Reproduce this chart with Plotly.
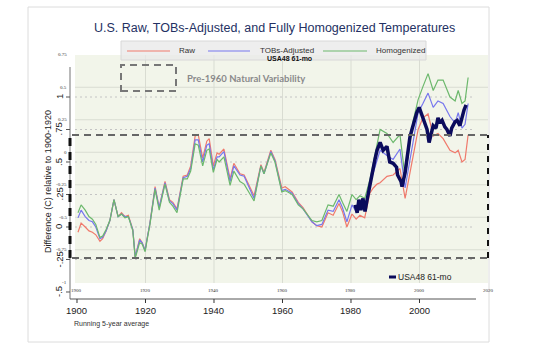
import plotly.graph_objects as go

# ---------------- data ----------------
years_main = [1900.3, 1901.2, 1902.4, 1903.5, 1904.5, 1905.5, 1906.7, 1907.5, 1908.5, 1909.6,
              1910.8, 1912.0, 1913.0, 1914.0, 1915.0, 1916.3, 1917.0, 1918.3, 1919.0, 1919.9,
              1920.4, 1921.3, 1922.8, 1924.0, 1925.7, 1927.0, 1928.0, 1929.2, 1931.0, 1932.2,
              1933.2, 1934.5, 1935.4, 1936.7, 1937.9, 1938.6, 1939.8, 1940.9, 1941.5, 1942.9,
              1944.7, 1945.8, 1947.6, 1948.8, 1951.7, 1953.7, 1954.6, 1956.6, 1957.8, 1959.8,
              1960.8, 1962.8, 1964.6, 1966.0, 1968.6, 1970.0, 1971.5, 1973.3, 1974.8, 1976.5,
              1977.5, 1978.8, 1980.3, 1981.5, 1982.6, 1984.0, 1985.5, 1986.5, 1987.6, 1988.5,
              1990.5, 1992.3, 1994.3, 1995.8, 1998.1, 1999.6, 2001.0, 2002.5, 2004.0, 2005.4,
              2006.9, 2008.9, 2010.4, 2011.3, 2012.4, 2013.3, 2014.2]
raw = [-0.04, 0.03, 0.00, -0.03, -0.04, -0.06, -0.11, -0.09, -0.03, 0.05,
       0.21, 0.08, 0.11, 0.08, 0.09, -0.02, -0.23, -0.09, -0.12, -0.18,
       -0.10, 0.03, 0.31, 0.15, 0.35, 0.21, 0.19, 0.14, 0.39, 0.40,
       0.47, 0.70, 0.71, 0.53, 0.66, 0.68, 0.47, 0.57, 0.56, 0.60,
       0.37, 0.49, 0.41, 0.40, 0.24, 0.48, 0.42, 0.59, 0.52, 0.30,
       0.31, 0.27, 0.19, 0.15, 0.04, 0.01, 0.00, 0.11, 0.09, 0.18,
       0.12, 0.00, 0.10, 0.06, 0.09, 0.07, 0.26, 0.30, 0.33, 0.34,
       0.39, 0.40, 0.45, 0.22, 0.54, 0.75, 0.84, 0.87, 0.70, 0.72,
       0.68, 0.59, 0.57, 0.59, 0.50, 0.52, 0.71]
tobs = [0.07, 0.13, 0.08, 0.05, 0.04, 0.00, -0.09, -0.08, -0.03, 0.05,
        0.21, 0.08, 0.10, 0.08, 0.08, -0.02, -0.23, -0.10, -0.12, -0.18,
        -0.10, 0.03, 0.30, 0.15, 0.34, 0.20, 0.18, 0.13, 0.38, 0.39,
        0.45, 0.67, 0.67, 0.50, 0.63, 0.64, 0.44, 0.54, 0.54, 0.58,
        0.35, 0.47, 0.40, 0.39, 0.22, 0.47, 0.41, 0.58, 0.51, 0.28,
        0.29, 0.26, 0.18, 0.14, 0.04, 0.01, 0.02, 0.13, 0.12, 0.21,
        0.15, 0.04, 0.17, 0.12, 0.16, 0.13, 0.33, 0.42, 0.50, 0.59,
        0.55, 0.52, 0.60, 0.30, 0.65, 0.88, 0.95, 1.03, 0.92, 0.97,
        0.95, 0.85, 0.80, 0.88, 0.76, 0.79, 0.95]
homog = [0.11, 0.17, 0.13, 0.08, 0.06, 0.02, -0.08, -0.07, -0.02, 0.05,
         0.21, 0.08, 0.10, 0.07, 0.08, -0.03, -0.24, -0.12, -0.13, -0.19,
         -0.11, 0.02, 0.29, 0.13, 0.33, 0.19, 0.16, 0.11, 0.37, 0.37,
         0.43, 0.64, 0.63, 0.47, 0.59, 0.60, 0.42, 0.52, 0.50, 0.54,
         0.32, 0.43, 0.35, 0.33, 0.20, 0.47, 0.41, 0.57, 0.50, 0.27,
         0.28, 0.25, 0.17, 0.14, 0.05, 0.04, 0.05, 0.17, 0.16, 0.25,
         0.19, 0.12, 0.25, 0.21, 0.24, 0.22, 0.36, 0.49, 0.63, 0.75,
         0.72, 0.65, 0.71, 0.38, 0.81, 0.98, 1.08, 1.18, 1.05, 1.13,
         1.13, 1.00, 0.97, 1.05, 0.95, 0.97, 1.15]

years_61mo = [1981.2, 1981.8, 1982.3, 1982.9, 1983.5, 1984.1, 1984.7, 1985.3, 1985.8, 1986.4,
              1987.0, 1987.6, 1988.1, 1988.5, 1989.4, 1990.5, 1991.3, 1992.3, 1993.3, 1993.6,
              1994.6, 1994.9, 1995.8, 1996.4, 1997.2, 1997.8, 1998.7, 1999.2, 1999.9, 2000.4,
              2001.0, 2001.6, 2002.2, 2002.8, 2003.4, 2004.0, 2004.8, 2005.4, 2006.0, 2006.6,
              2007.4, 2008.0, 2008.9, 2009.4, 2010.4, 2011.0, 2011.8, 2012.4, 2013.0, 2013.6]
usa48_61mo = [0.17, 0.11, 0.21, 0.13, 0.22, 0.12, 0.21, 0.30, 0.36, 0.44,
              0.52, 0.59, 0.62, 0.65, 0.59, 0.62, 0.50, 0.49, 0.46, 0.40,
              0.35, 0.31, 0.42, 0.54, 0.69, 0.75, 0.85, 0.88, 0.92, 0.88,
              0.84, 0.78, 0.75, 0.65, 0.71, 0.78, 0.76, 0.84, 0.80, 0.82,
              0.77, 0.75, 0.70, 0.76, 0.81, 0.82, 0.78, 0.85, 0.90, 0.94]

outer_y_ticks = [1, 0.75, 0.5, 0.25, 0, -0.25, -0.5]
outer_y_labels = ["1", ".75", ".5", ".25", "0", "-.25", "-.5"]
inner_y_ticks = [0.75, 0.5, 0.25, 0, -0.25, -0.5, -0.75, -1]
inner_y_labels = ["0.75", "0.5", "0.25", "0", "-0.25", "-0.5", "-0.75", "-1"]
inner_offset = 0.575          # inner panel zero sits at +0.575 on the outer scale
x_ticks = [1900, 1920, 1940, 1960, 1980, 2000]
inner_x_ticks = [1900, 1920, 1940, 1960, 1980, 2000, 2020]
band_levels = [0.708, -0.238]  # dashed "natural variability" band

# ---------------- layout geometry ----------------
W_, H_ = 540, 350
L, T, PW, PH = 75, 55, 413, 228
XR = [1899.42, 2020.0]
YR = [-0.4308, 1.3231]

def fx(px):
    return (px - L) / PW

def fy(py):
    return (T + PH - py) / PH

def year_px(yr):
    return L + (yr - XR[0]) / (XR[1] - XR[0]) * PW

def val_fy(v):
    return (v - YR[0]) / (YR[1] - YR[0])

FONT = "Liberation Sans, Arial, sans-serif"

fig = go.Figure()
fig.add_trace(go.Scatter(x=years_main, y=raw, mode="lines", name="Raw",
                         line=dict(color="#f07a6c", width=1.2)))
fig.add_trace(go.Scatter(x=years_main, y=tobs, mode="lines", name="TOBs-Adjusted",
                         line=dict(color="#7676ee", width=1.2)))
fig.add_trace(go.Scatter(x=years_main, y=homog, mode="lines", name="Homogenized",
                         line=dict(color="#6cb86c", width=1.2)))
fig.add_trace(go.Scatter(x=years_61mo, y=usa48_61mo, mode="lines", name="USA48 61-mo",
                         line=dict(color="#0b0b5c", width=3.5)))

shapes = []
ann = []

# card outline
shapes.append(dict(type="rect", xref="paper", yref="paper", x0=fx(28), x1=fx(489),
                   y0=fy(342), y1=fy(7), line=dict(color="#dcdcdc", width=1), layer="below"))

# inner solid grid
for v in inner_y_ticks[1:-1]:
    shapes.append(dict(type="line", xref="paper", yref="y", x0=0, x1=1,
                       y0=v + inner_offset, y1=v + inner_offset,
                       line=dict(color="#d9dcd2", width=1), layer="below"))
for yr in inner_x_ticks[1:-1]:
    shapes.append(dict(type="line", xref="x", yref="paper", x0=yr, x1=yr, y0=0, y1=1,
                       line=dict(color="#d9dcd2", width=1), layer="below"))
# outer dotted grid
for v in outer_y_ticks[:-1]:
    shapes.append(dict(type="line", xref="x", yref="y", x0=XR[0], x1=2016.2, y0=v, y1=v,
                       line=dict(color="#c4c4c4", width=1, dash="2px,3px"), layer="below"))

# outer axes lines and ticks
shapes.append(dict(type="line", xref="paper", yref="paper", x0=fx(70), x1=fx(70),
                   y0=fy(299), y1=fy(67), line=dict(color="#8a8a8a", width=1.2)))
shapes.append(dict(type="line", xref="paper", yref="paper", x0=fx(70), x1=fx(476),
                   y0=fy(299), y1=fy(299), line=dict(color="#555555", width=1)))
for v in outer_y_ticks:
    shapes.append(dict(type="line", xref="paper", yref="paper", x0=fx(66), x1=fx(70),
                       y0=val_fy(v), y1=val_fy(v), line=dict(color="#555555", width=1)))
for yr in x_ticks:
    shapes.append(dict(type="line", xref="paper", yref="paper", x0=fx(year_px(yr)), x1=fx(year_px(yr)),
                       y0=fy(299), y1=fy(303), line=dict(color="#333333", width=1)))

# dashed band
for v in band_levels:
    shapes.append(dict(type="line", xref="paper", yref="y", x0=fx(72), x1=fx(488), y0=v, y1=v,
                       line=dict(color="#666666", width=2, dash="7px,5px")))
shapes.append(dict(type="line", xref="paper", yref="y", x0=fx(70), x1=fx(70),
                   y0=band_levels[1], y1=band_levels[0],
                   line=dict(color="#111111", width=3, dash="8px,6px")))
shapes.append(dict(type="line", xref="paper", yref="y", x0=fx(488), x1=fx(488),
                   y0=band_levels[1], y1=band_levels[0],
                   line=dict(color="#111111", width=2, dash="6px,6px")))

# dashed legend-like box for natural variability
shapes.append(dict(type="rect", xref="paper", yref="paper", x0=fx(121), x1=fx(176),
                   y0=fy(91), y1=fy(65), line=dict(color="#777777", width=2, dash="7px,5px")))
ann.append(dict(text="<b>Pre-1960 Natural Variability</b>", xref="paper", yref="paper",
                x=fx(185), y=fy(78), xanchor="left", yanchor="middle", showarrow=False,
                font=dict(family="Lato, sans-serif", size=9.5, color="#8a8a8a")))

# legend box at top
shapes.append(dict(type="rect", xref="paper", yref="paper", x0=fx(121), x1=fx(426),
                   y0=fy(60), y1=fy(41), line=dict(color="#d8d8d8", width=1),
                   fillcolor="rgba(232,232,232,0.75)"))
leg = [("Raw", "#f07a6c", 127, 170, 177), ("TOBs-Adjusted", "#7676ee", 208, 250, 258),
       ("Homogenized", "#6cb86c", 323, 367, 374)]
for name, col, a, b, tx in leg:
    shapes.append(dict(type="line", xref="paper", yref="paper", x0=fx(a), x1=fx(b),
                       y0=fy(51), y1=fy(51), line=dict(color=col, width=1.2)))
    ann.append(dict(text=name, xref="paper", yref="paper", x=fx(tx), y=fy(51),
                    xanchor="left", yanchor="middle", showarrow=False,
                    font=dict(family=FONT, size=8, color="#333333")))
ann.append(dict(text="<b>USA48 61-mo</b>", xref="paper", yref="paper", x=fx(289), y=fy(58),
                xanchor="center", yanchor="middle", showarrow=False,
                font=dict(family=FONT, size=7, color="#111111")))

# bottom legend for the 61-mo series
shapes.append(dict(type="line", xref="paper", yref="paper", x0=fx(389), x1=fx(396),
                   y0=fy(277), y1=fy(277), line=dict(color="#0b0b5c", width=3)))
ann.append(dict(text="USA48 61-mo", xref="paper", yref="paper", x=fx(396), y=fy(277),
                xanchor="left", yanchor="middle", showarrow=False,
                font=dict(family=FONT, size=8.5, color="#222222")))

# outer y labels (rotated)
for v, lab in zip(outer_y_ticks, outer_y_labels):
    ann.append(dict(text=lab, xref="paper", yref="paper", x=fx(59), y=val_fy(v),
                    xanchor="center", yanchor="middle", textangle=-90, showarrow=False,
                    font=dict(family=FONT, size=9.5, color="#222222")))
# inner tiny y labels
for v, lab in zip(inner_y_ticks, inner_y_labels):
    ann.append(dict(text=lab, xref="paper", yref="paper", x=fx(69), y=val_fy(v + inner_offset),
                    xanchor="right", yanchor="middle", showarrow=False,
                    font=dict(family="Liberation Serif, serif", size=5, color="#333333")))
# outer x labels
for yr in x_ticks:
    ann.append(dict(text=str(yr), xref="paper", yref="paper", x=fx(year_px(yr)), y=fy(310),
                    xanchor="center", yanchor="middle", showarrow=False,
                    font=dict(family=FONT, size=9.5, color="#222222")))
# inner tiny x labels
for yr in inner_x_ticks:
    ann.append(dict(text=str(yr), xref="paper", yref="paper", x=fx(year_px(yr)), y=fy(290),
                    xanchor="center", yanchor="middle", showarrow=False,
                    font=dict(family="Liberation Serif, serif", size=5, color="#333333")))

ann.append(dict(text="Difference (C) relative to 1900-1920", xref="paper", yref="paper",
                x=fx(48), y=fy(182), textangle=-90, xanchor="center", yanchor="middle",
                showarrow=False, font=dict(family=FONT, size=9, color="#222222")))
ann.append(dict(text="Running 5-year average", xref="paper", yref="paper", x=fx(72), y=fy(324),
                xanchor="left", yanchor="middle", showarrow=False,
                font=dict(family=FONT, size=7, color="#333333")))
ann.append(dict(text="U.S. Raw, TOBs-Adjusted, and Fully Homogenized Temperatures",
                xref="paper", yref="paper", x=fx(274), y=fy(28), xanchor="center",
                yanchor="middle", showarrow=False,
                font=dict(family=FONT, size=12.5, color="#243163")))

fig.update_layout(
    width=W_, height=H_,
    margin=dict(l=L, r=W_ - L - PW, t=T, b=H_ - T - PH, pad=0),
    paper_bgcolor="white", plot_bgcolor="#f2f5ea",
    showlegend=False,
    xaxis=dict(range=XR, showgrid=False, zeroline=False, showticklabels=False, ticks="",
               showline=False),
    yaxis=dict(range=YR, showgrid=False, zeroline=False, showticklabels=False, ticks="",
               showline=False),
    shapes=shapes, annotations=ann,
)

fig.write_html("out.html")
